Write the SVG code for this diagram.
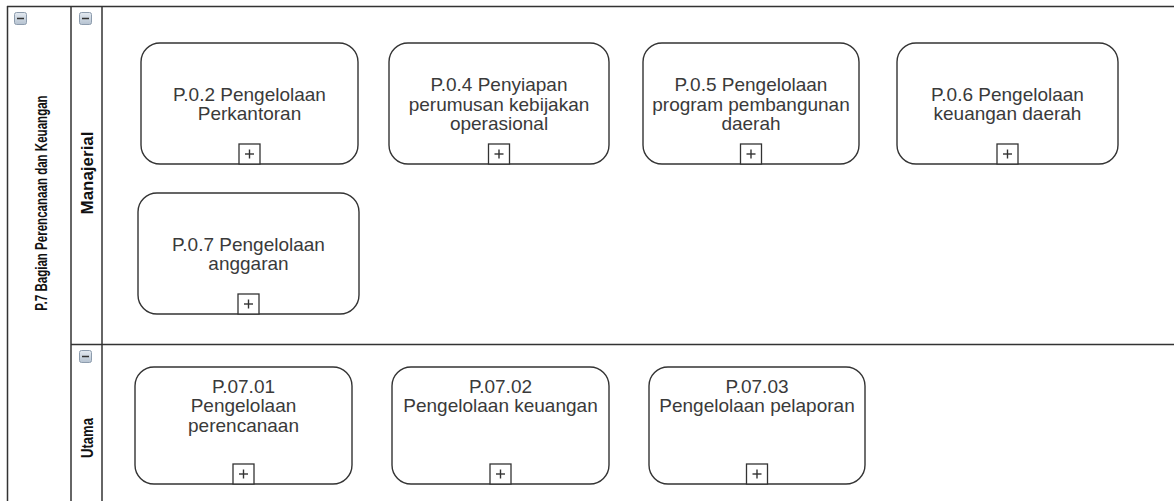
<svg xmlns="http://www.w3.org/2000/svg" width="1174" height="501" viewBox="0 0 1174 501">
<defs>
<linearGradient id="ig" x1="0" y1="0" x2="0" y2="1">
<stop offset="0" stop-color="#e4eaf1"/>
<stop offset="1" stop-color="#b5c2d0"/>
</linearGradient>
<g id="minus">
<rect x="0.5" y="0.5" width="12" height="12" rx="2" fill="url(#ig)" stroke="#8d9cad" stroke-width="1"/>
<line x1="3" y1="6.5" x2="10" y2="6.5" stroke="#333" stroke-width="1.5"/>
</g>
<g id="plus">
<rect x="-10.5" y="-20" width="21" height="20" fill="#fff" stroke="#333" stroke-width="1.3"/>
<line x1="-4.5" y1="-10" x2="4.5" y2="-10" stroke="#333" stroke-width="1.4"/>
<line x1="0" y1="-14.5" x2="0" y2="-5.5" stroke="#333" stroke-width="1.4"/>
</g>
</defs>
<style>
.frame{stroke:#333;stroke-width:1.5;fill:none}
.task{fill:#fff;stroke:#333;stroke-width:1.4}
.lbl{font-family:"Liberation Sans",Arial,sans-serif;font-size:19px;fill:#3a3a3a;text-anchor:middle}
.hdr{font-family:"Liberation Sans",Arial,sans-serif;font-weight:bold;fill:#111;text-anchor:middle}
.hdrn{font-family:"Liberation Sans Narrow","Liberation Sans",Arial,sans-serif;font-weight:bold;fill:#111;text-anchor:middle}
</style>
<rect width="1174" height="501" fill="#fff"/>

<g id="pool">
<line class="frame" x1="7.5" y1="6" x2="7.5" y2="501"/>
<line class="frame" x1="7" y1="6.5" x2="1174" y2="6.5"/>
<line class="frame" x1="71" y1="6" x2="71" y2="501"/>
<use href="#minus" x="14" y="12"/>
<text class="hdr" font-size="17" transform="translate(47,203) rotate(-90) scale(0.68,1)">P.7 Bagian Perencanaan dan Keuangan</text>
</g>

<g id="lane-manajerial">
<line class="frame" x1="102" y1="6" x2="102" y2="501"/>
<use href="#minus" x="79" y="12"/>
<text class="hdrn" font-size="17" transform="translate(93,173) rotate(-90)" textLength="83" lengthAdjust="spacingAndGlyphs">Manajerial</text>
</g>

<g id="lane-utama">
<line class="frame" x1="71" y1="344.5" x2="1174" y2="344.5"/>
<use href="#minus" x="79" y="350"/>
<text class="hdrn" font-size="17" transform="translate(93,438) rotate(-90)" textLength="40" lengthAdjust="spacingAndGlyphs">Utama</text>
</g>

<g id="n-p02">
<rect class="task" x="141" y="43" width="217" height="121" rx="19"/>
<text class="lbl" x="249.5" y="101">P.0.2 Pengelolaan</text>
<text class="lbl" x="249.5" y="120">Perkantoran</text>
<use href="#plus" x="249.5" y="164"/>
</g>

<g id="n-p04">
<rect class="task" x="389" y="43" width="220" height="121" rx="19"/>
<text class="lbl" x="499" y="91">P.0.4 Penyiapan</text>
<text class="lbl" x="499" y="110.5">perumusan kebijakan</text>
<text class="lbl" x="499" y="130">operasional</text>
<use href="#plus" x="499" y="164"/>
</g>

<g id="n-p05">
<rect class="task" x="643" y="43" width="216" height="121" rx="19"/>
<text class="lbl" x="751" y="91">P.0.5 Pengelolaan</text>
<text class="lbl" x="751" y="110.5">program pembangunan</text>
<text class="lbl" x="751" y="130">daerah</text>
<use href="#plus" x="751" y="164"/>
</g>

<g id="n-p06">
<rect class="task" x="897" y="43" width="221" height="121" rx="19"/>
<text class="lbl" x="1007.5" y="101">P.0.6 Pengelolaan</text>
<text class="lbl" x="1007.5" y="120">keuangan daerah</text>
<use href="#plus" x="1007.5" y="164"/>
</g>

<g id="n-p07">
<rect class="task" x="138" y="193" width="221" height="121" rx="19"/>
<text class="lbl" x="248.5" y="251">P.0.7 Pengelolaan</text>
<text class="lbl" x="248.5" y="270">anggaran</text>
<use href="#plus" x="248.5" y="314"/>
</g>

<g id="n-p0701">
<rect class="task" x="135" y="367" width="217" height="117" rx="19"/>
<text class="lbl" x="243.5" y="392.5">P.07.01</text>
<text class="lbl" x="243.5" y="412">Pengelolaan</text>
<text class="lbl" x="243.5" y="431.5">perencanaan</text>
<use href="#plus" x="243.5" y="484"/>
</g>

<g id="n-p0702">
<rect class="task" x="392" y="367" width="217" height="117" rx="19"/>
<text class="lbl" x="500.5" y="392.5">P.07.02</text>
<text class="lbl" x="500.5" y="412">Pengelolaan keuangan</text>
<use href="#plus" x="500.5" y="484"/>
</g>

<g id="n-p0703">
<rect class="task" x="649" y="367" width="216" height="117" rx="19"/>
<text class="lbl" x="757" y="392.5">P.07.03</text>
<text class="lbl" x="757" y="412">Pengelolaan pelaporan</text>
<use href="#plus" x="757" y="484"/>
</g>

<g id="connectors"></g>
</svg>
